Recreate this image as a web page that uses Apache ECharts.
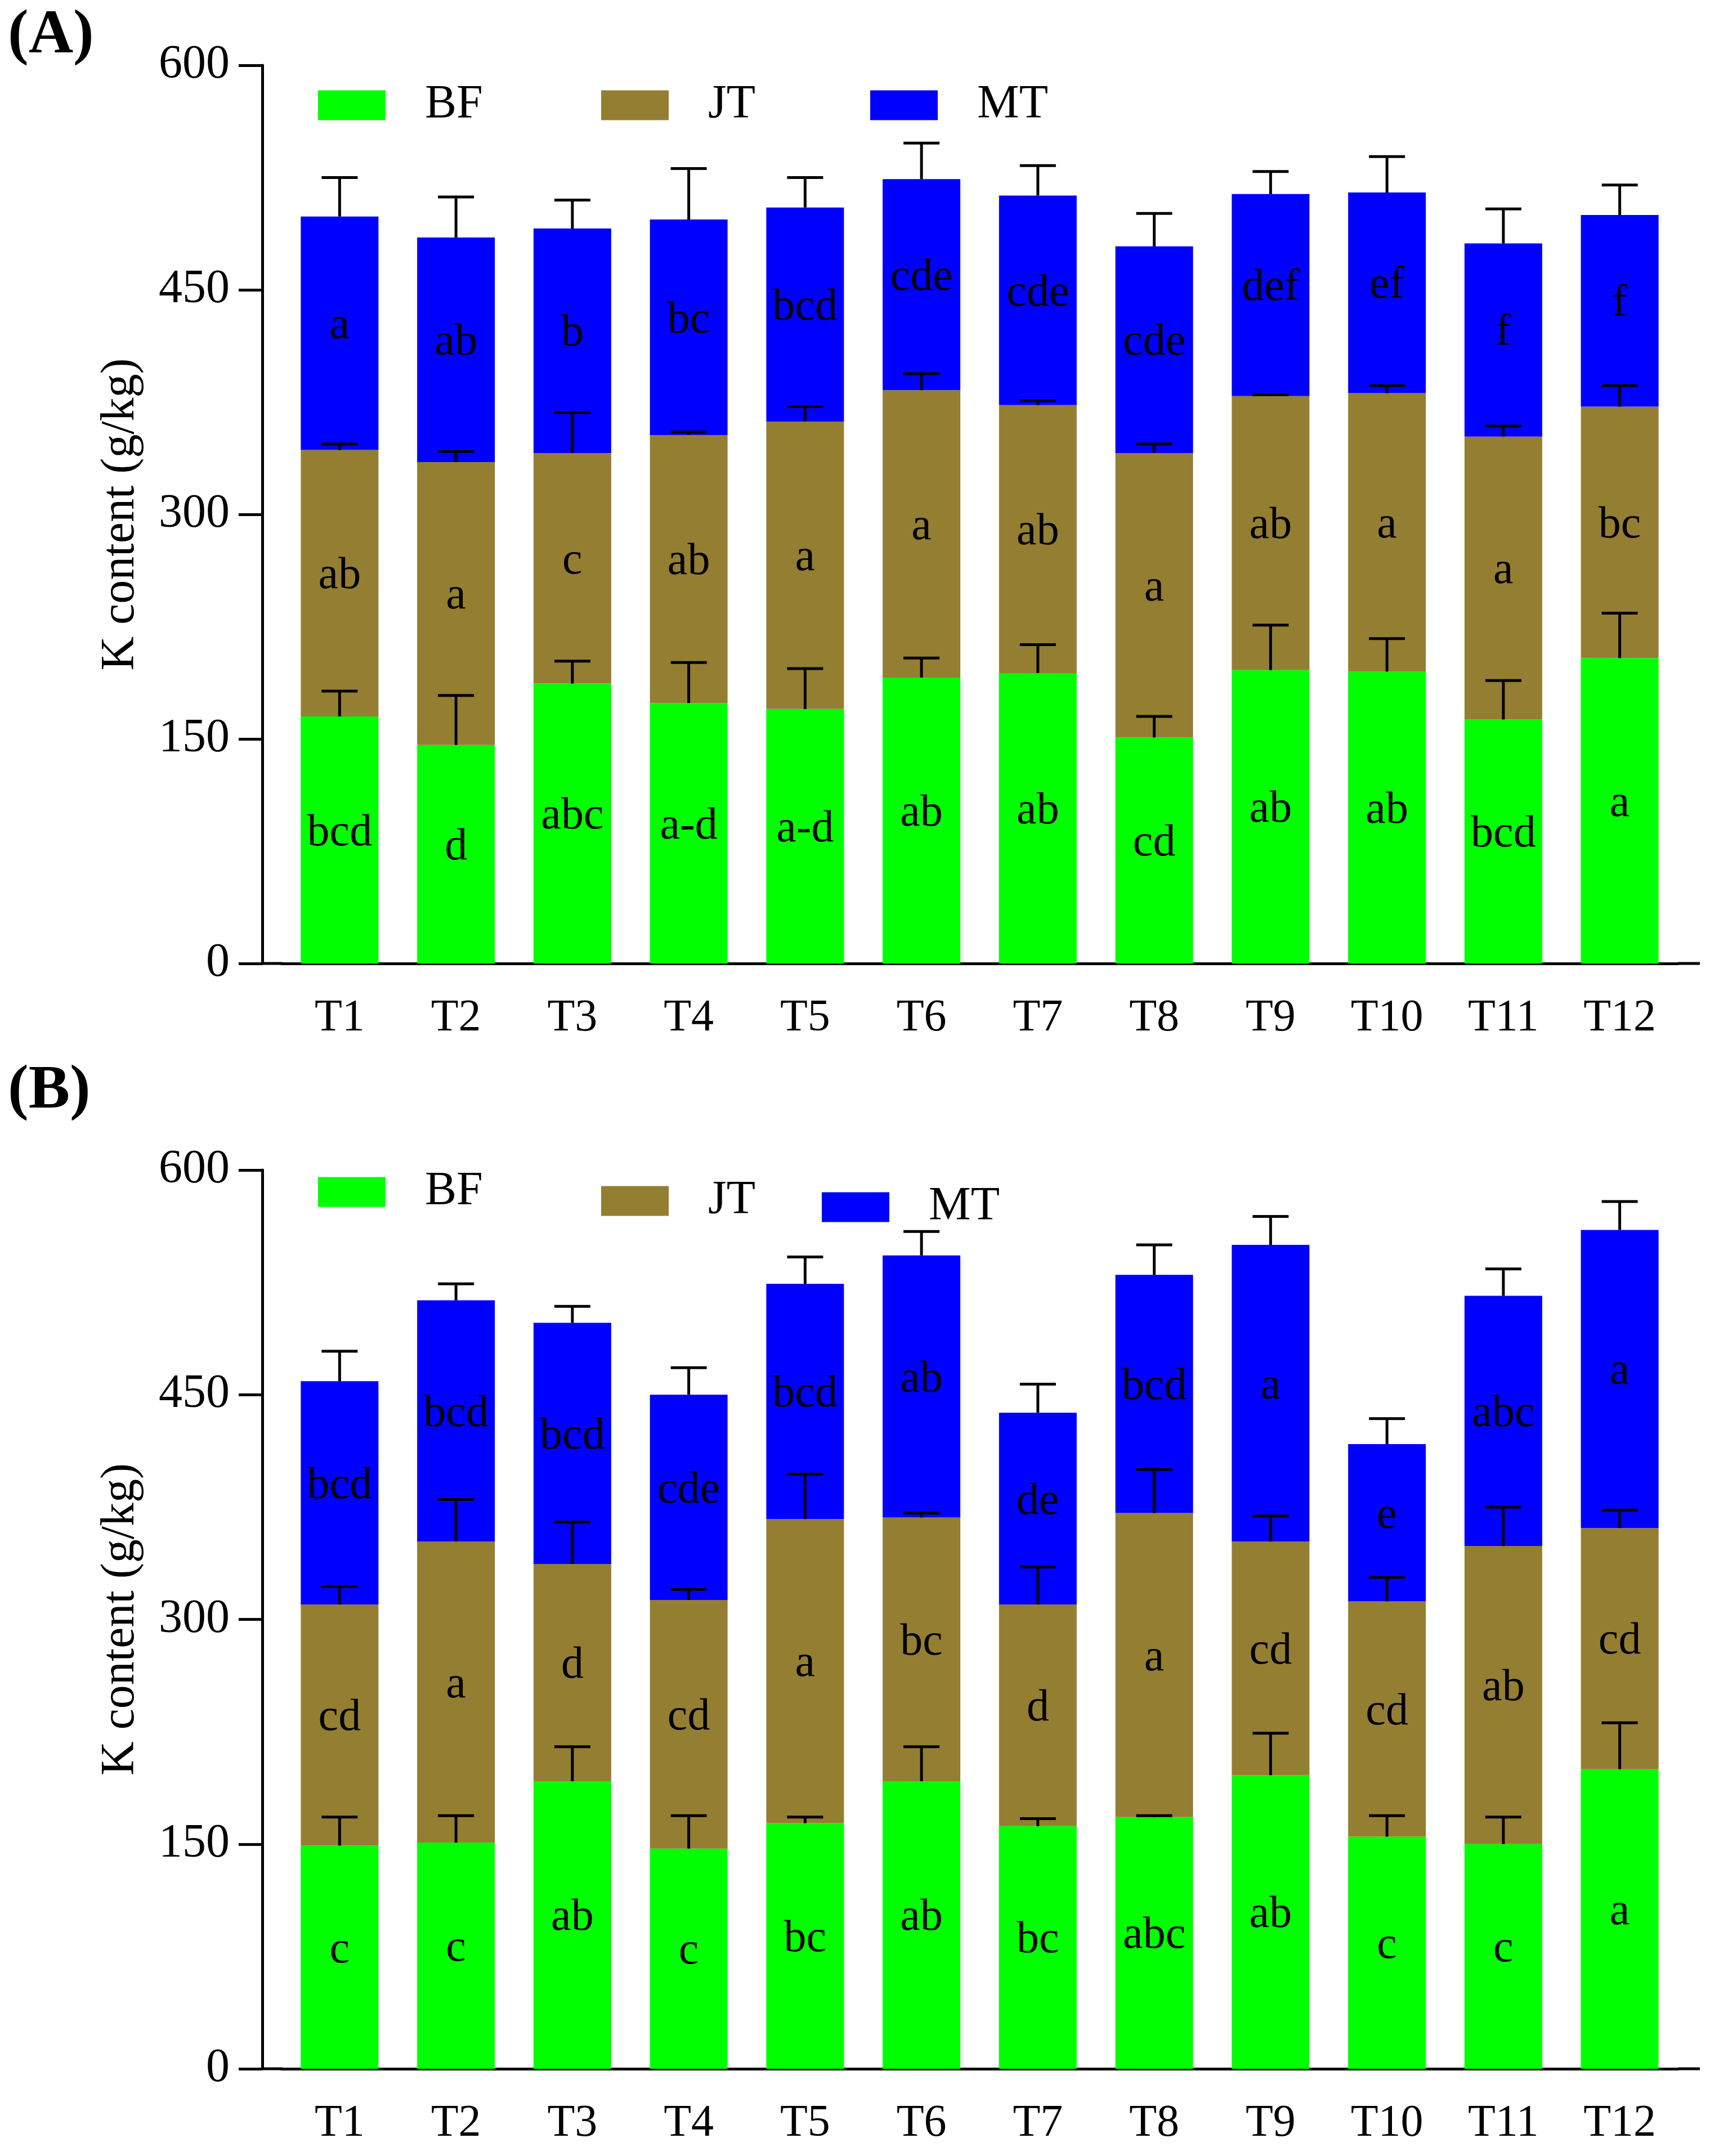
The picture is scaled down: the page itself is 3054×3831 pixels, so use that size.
<!DOCTYPE html>
<html>
<head>
<meta charset="utf-8">
<title>K content</title>
<script src="https://cdn.jsdelivr.net/npm/echarts@6/dist/echarts.min.js"></script>
<style>
    html, body {margin: 0; padding: 0; background: #fff;}
    #main {width: 3054px; height: 3831px;}
</style>
</head>
<body>
<div id="main"></div>
<script>
    // 分类
    var categories = ['T1', 'T2', 'T3', 'T4', 'T5', 'T6', 'T7', 'T8', 'T9', 'T10', 'T11', 'T12'];
    var yTicks = [0, 150, 300, 450, 600];

    // (A) 数据
    var bfA = [165, 146, 187, 174, 170, 191, 194, 151, 196, 195, 163, 204];
    var bfErrA = [17, 33, 15, 27, 27, 13, 19, 14, 30, 22, 26, 30];
    var jtA = [178, 189, 154, 179, 192, 192, 179, 190, 183, 186, 189, 168];
    var jtErrA = [4, 7, 27, 2, 10, 11, 3, 6, 1, 5, 7, 14];
    var mtA = [156, 150, 150, 144, 143, 141, 140, 138, 135, 134, 129, 128];
    var mtErrA = [26, 27, 19, 34, 20, 24, 20, 22, 15, 24, 23, 20];
    var bfLetA = ['bcd', 'd', 'abc', 'a-d', 'a-d', 'ab', 'ab', 'cd', 'ab', 'ab', 'bcd', 'a'];
    var jtLetA = ['ab', 'a', 'c', 'ab', 'a', 'a', 'ab', 'a', 'ab', 'a', 'a', 'bc'];
    var mtLetA = ['a', 'ab', 'b', 'bc', 'bcd', 'cde', 'cde', 'cde', 'def', 'ef', 'f', 'f'];

    // (B) 数据
    var bfB = [149, 151, 192, 147, 164, 192, 162, 168, 196, 155, 150, 200];
    var bfErrB = [19, 18, 23, 22, 4, 23, 5, 1, 28, 14, 18, 31];
    var jtB = [161, 201, 145, 166, 203, 176, 148, 203, 156, 157, 199, 161];
    var jtErrB = [12, 28, 28, 7, 30, 3, 25, 29, 17, 16, 26, 12];
    var mtB = [149, 161, 161, 137, 157, 175, 128, 159, 198, 105, 167, 199];
    var mtErrB = [20, 11, 11, 18, 18, 16, 19, 20, 19, 17, 18, 19];
    var bfLetB = ['c', 'c', 'ab', 'c', 'bc', 'ab', 'bc', 'abc', 'ab', 'c', 'c', 'a'];
    var jtLetB = ['cd', 'a', 'd', 'cd', 'a', 'bc', 'd', 'a', 'cd', 'cd', 'ab', 'cd'];
    var mtLetB = ['bcd', 'bcd', 'bcd', 'cde', 'bcd', 'ab', 'de', 'bcd', 'a', 'e', 'abc', 'a'];

    var colors = {BF: '#00ff00', JT: '#947e31', MT: '#0000ff'};
    var font = "'Times New Roman', 'Liberation Serif', serif";

    var myChart = echarts.init(document.getElementById('main'));

    // 误差线: [类别, 底部累计值, 误差]
    function errData(bf, bfe, jt, jte, mt, mte) {
        var out = [];
        for (var i = 0; i < bf.length; i++) {
            out.push([i, bf[i], bfe[i]]);
            out.push([i, bf[i] + jt[i], jte[i]]);
            out.push([i, bf[i] + jt[i] + mt[i], mte[i]]);
        }
        return out;
    }

    function renderErr(params, api) {
        var x = api.value(0);
        var p0 = api.coord([x, api.value(1)]);
        var p1 = api.coord([x, api.value(1) + api.value(2)]);
        var half = 32;
        var st = {stroke: '#000', lineWidth: 5};
        return {
            type: 'group',
            children: [
                {type: 'line', shape: {x1: p0[0], y1: p0[1], x2: p1[0], y2: p1[1]}, style: st},
                {type: 'line', shape: {x1: p1[0] - half, y1: p1[1], x2: p1[0] + half, y2: p1[1]}, style: st}
            ]
        };
    }

    function barSeries(name, data, letters, idx) {
        return {
            name: name,
            type: 'bar',
            stack: 'p' + idx,
            xAxisIndex: idx,
            yAxisIndex: idx,
            barWidth: 138,
            itemStyle: {color: colors[name]},
            label: {
                show: true,
                position: 'inside',
                offset: [0, -12],
                color: '#000',
                fontFamily: font,
                fontSize: 80,
                formatter: function (p) {
                    return letters[p.dataIndex];
                }
            },
            data: data
        };
    }

    function legendAt(name, left, top) {
        return {
            data: [name],
            left: left,
            top: top,
            padding: 0,
            icon: 'rect',
            itemWidth: 120,
            itemHeight: 53,
            selectedMode: false,
            textStyle: {fontFamily: font, fontSize: 84, color: '#000', padding: [0, 0, 0, 65]}
        };
    }

    function xAxisCfg(idx) {
        return {
            type: 'category',
            gridIndex: idx,
            data: categories,
            axisLine: {lineStyle: {color: '#000', width: 5}},
            axisTick: {alignWithLabel: true, length: 40, lineStyle: {color: '#000', width: 5}},
            axisLabel: {color: '#000', fontFamily: font, fontSize: 80, margin: 58}
        };
    }

    function yAxisCfg(idx) {
        return {
            type: 'value',
            gridIndex: idx,
            min: yTicks[0],
            max: yTicks[yTicks.length - 1],
            interval: yTicks[1] - yTicks[0],
            offset: 34,
            name: 'K content (g/kg)',
            nameLocation: 'middle',
            nameGap: 209,
            nameTextStyle: {color: '#000', fontFamily: font, fontSize: 84},
            axisLine: {show: true, lineStyle: {color: '#000', width: 5}},
            axisTick: {show: true, length: 42, lineStyle: {color: '#000', width: 5}},
            axisLabel: {color: '#000', fontFamily: font, fontSize: 84, margin: 58},
            splitLine: {show: false}
        };
    }

    // x轴两端延长
    function axisExt(y) {
        var st = {stroke: '#000', lineWidth: 5};
        return [
            {type: 'line', shape: {x1: 464, y1: y, x2: 502, y2: y}, style: st},
            {type: 'line', shape: {x1: 2981, y1: y, x2: 3020, y2: y}, style: st}
        ];
    }

    var option = {
        animation: false,
        backgroundColor: '#fff',
        title: [
            {text: '(A)', left: 14, top: 10, padding: 0,
                textStyle: {fontFamily: font, fontSize: 110, fontWeight: 'bold', color: '#000'}},
            {text: '(B)', left: 14, top: 1885, padding: 0,
                textStyle: {fontFamily: font, fontSize: 110, fontWeight: 'bold', color: '#000'}}
        ],
        legend: [
            legendAt('BF', 565, 145),
            legendAt('JT', 1068, 145),
            legendAt('MT', 1546, 145),
            legendAt('BF', 565, 2076),
            legendAt('JT', 1068, 2092),
            legendAt('MT', 1460, 2103)
        ],
        grid: [
            {left: 500, right: 73, top: 116, bottom: 3831 - 1712},
            {left: 500, right: 73, top: 2079, bottom: 3831 - 3676}
        ],
        xAxis: [xAxisCfg(0), xAxisCfg(1)],
        yAxis: [yAxisCfg(0), yAxisCfg(1)],
        graphic: axisExt(1712).concat(axisExt(3676)),
        series: [
            barSeries('BF', bfA, bfLetA, 0),
            barSeries('JT', jtA, jtLetA, 0),
            barSeries('MT', mtA, mtLetA, 0),
            barSeries('BF', bfB, bfLetB, 1),
            barSeries('JT', jtB, jtLetB, 1),
            barSeries('MT', mtB, mtLetB, 1),
            {
                type: 'custom',
                xAxisIndex: 0,
                yAxisIndex: 0,
                z: 10,
                renderItem: renderErr,
                encode: {x: 0, y: 1},
                data: errData(bfA, bfErrA, jtA, jtErrA, mtA, mtErrA)
            },
            {
                type: 'custom',
                xAxisIndex: 1,
                yAxisIndex: 1,
                z: 10,
                renderItem: renderErr,
                encode: {x: 0, y: 1},
                data: errData(bfB, bfErrB, jtB, jtErrB, mtB, mtErrB)
            }
        ]
    };

    myChart.setOption(option);
</script>
</body>
</html>
